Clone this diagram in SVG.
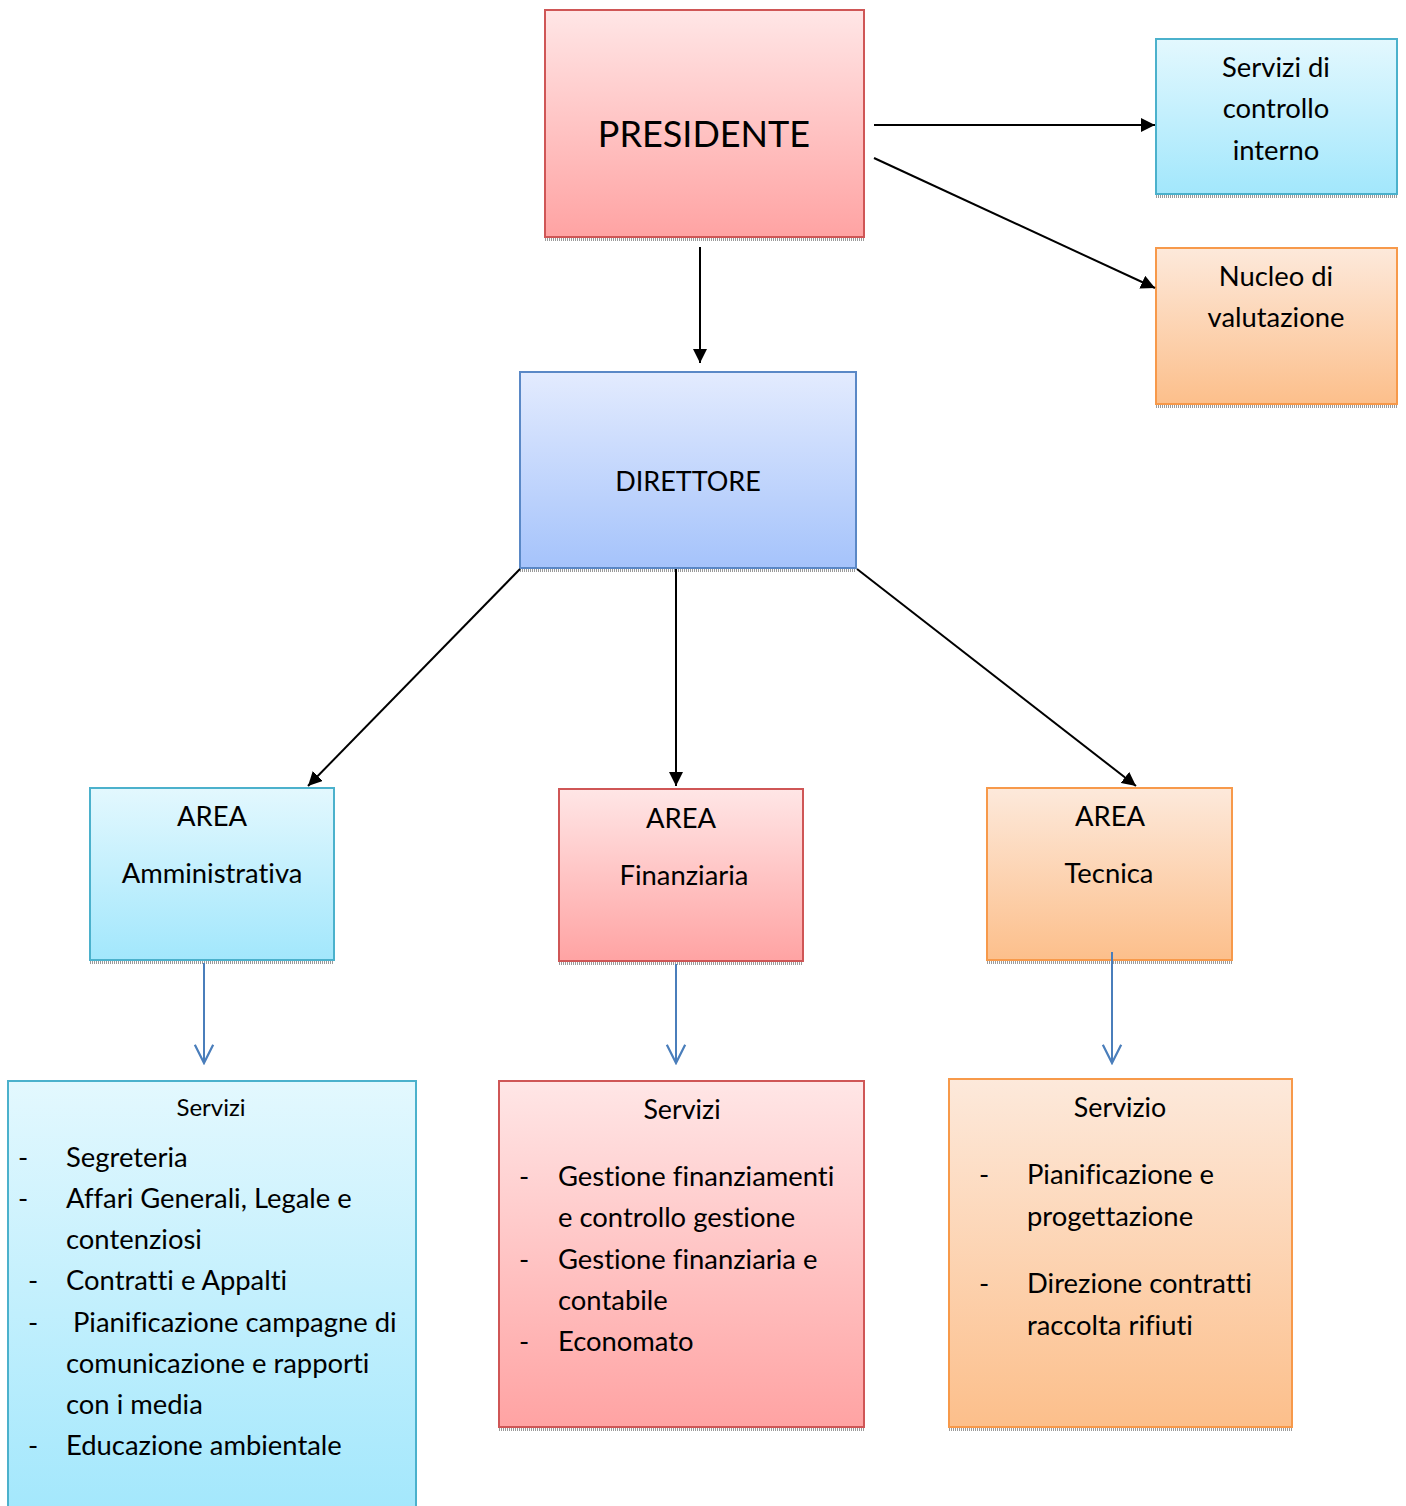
<svg xmlns="http://www.w3.org/2000/svg" width="1406" height="1506" viewBox="0 0 1406 1506">
<defs>
<linearGradient id="gRed" x1="0" y1="0" x2="0" y2="1"><stop offset="0" stop-color="#ffe6e6"/><stop offset="1" stop-color="#ffa3a3"/></linearGradient>
<linearGradient id="gCyan" x1="0" y1="0" x2="0" y2="1"><stop offset="0" stop-color="#e3f8fe"/><stop offset="1" stop-color="#a2e7fc"/></linearGradient>
<linearGradient id="gOrange" x1="0" y1="0" x2="0" y2="1"><stop offset="0" stop-color="#fde9db"/><stop offset="1" stop-color="#fcbf8b"/></linearGradient>
<linearGradient id="gBlue" x1="0" y1="0" x2="0" y2="1"><stop offset="0" stop-color="#e3ebfe"/><stop offset="1" stop-color="#a5c3fb"/></linearGradient>
<marker id="ah" viewBox="0 0 10 10" refX="10" refY="5" markerWidth="14" markerHeight="14" markerUnits="userSpaceOnUse" orient="auto"><path d="M0,0 L10,5 L0,10 z" fill="#000"/></marker>
<marker id="oh" viewBox="0 0 12 12" refX="11" refY="6" markerWidth="22" markerHeight="22" markerUnits="userSpaceOnUse" orient="auto"><path d="M1,1 L11,6 L1,11" fill="none" stroke="#4a7ebb" stroke-width="1.2"/></marker>
</defs>
<style>
.red{fill:url(#gRed);stroke:#cf5656;stroke-width:2}
.cyan{fill:url(#gCyan);stroke:#4bb1cc;stroke-width:2}
.orange{fill:url(#gOrange);stroke:#f7994a;stroke-width:2}
.blue{fill:url(#gBlue);stroke:#5a88c6;stroke-width:2}
.sh{stroke:#9a9a9a;stroke-width:3;stroke-dasharray:1 1}
text{font-family:Lato,"Open Sans","Liberation Sans",sans-serif;fill:#000;font-variant-ligatures:none}
.c{text-anchor:middle}
.t26{font-size:27.4px}
.t24{font-size:26.8px}
.t22{font-size:24px}
.blk{stroke:#000;stroke-width:2;fill:none;marker-end:url(#ah)}
.bl{stroke:#4a7ebb;stroke-width:2;fill:none;marker-end:url(#oh)}
</style>

<g id="presidente">
<rect class="red" x="545" y="10" width="319" height="227"/>
<line class="sh" x1="545" y1="239.5" x2="864" y2="239.5"/>
<text class="c" x="704" y="147" font-size="36">PRESIDENTE</text>
</g>

<g id="controllo">
<rect class="cyan" x="1156" y="39" width="241" height="155"/>
<line class="sh" x1="1156" y1="196.5" x2="1397" y2="196.5"/>
<text class="c t26" x="1276" y="77">Servizi di</text>
<text class="c t26" x="1276" y="118">controllo</text>
<text class="c t26" x="1276" y="160">interno</text>
</g>

<g id="nucleo">
<rect class="orange" x="1156" y="248" width="241" height="156"/>
<line class="sh" x1="1156" y1="406.5" x2="1397" y2="406.5"/>
<text class="c t26" x="1276" y="286">Nucleo di</text>
<text class="c t26" x="1276" y="327">valutazione</text>
</g>

<g id="direttore">
<rect class="blue" x="520" y="372" width="336" height="196"/>
<line class="sh" x1="520" y1="570.5" x2="856" y2="570.5"/>
<text class="c" x="688" y="491" font-size="27">DIRETTORE</text>
</g>

<g id="area-amm">
<rect class="cyan" x="90" y="788" width="244" height="172"/>
<line class="sh" x1="90" y1="962.5" x2="334" y2="962.5"/>
<text class="c t26" x="212" y="826">AREA</text>
<text class="c t26" x="212" y="883">Amministrativa</text>
</g>

<g id="area-fin">
<rect class="red" x="559" y="789" width="244" height="172"/>
<line class="sh" x1="559" y1="963.5" x2="803" y2="963.5"/>
<text class="c t26" x="681" y="828">AREA</text>
<text class="c t26" x="684" y="885">Finanziaria</text>
</g>

<g id="area-tec">
<rect class="orange" x="987" y="788" width="245" height="172"/>
<line class="sh" x1="987" y1="962.5" x2="1232" y2="962.5"/>
<text class="c t26" x="1110" y="826">AREA</text>
<text class="c t26" x="1109" y="883">Tecnica</text>
</g>

<g id="servizi-amm">
<rect class="cyan" x="8" y="1081" width="408" height="440"/>
<text class="c t22" x="211" y="1116">Servizi</text>
<g class="t26">
<text x="18" y="1167">-</text><text x="66" y="1167">Segreteria</text>
<text x="18" y="1208">-</text><text x="66" y="1208">Affari Generali, Legale e</text>
<text x="66" y="1249">contenziosi</text>
<text x="28" y="1290">-</text><text x="66" y="1290">Contratti e Appalti</text>
<text x="28" y="1332">-</text><text x="73" y="1332">Pianificazione campagne di</text>
<text x="66" y="1373">comunicazione e rapporti</text>
<text x="66" y="1414">con i media</text>
<text x="28" y="1455">-</text><text x="66" y="1455">Educazione ambientale</text>
</g>
</g>

<g id="servizi-fin">
<rect class="red" x="499" y="1081" width="365" height="346"/>
<line class="sh" x1="499" y1="1429.5" x2="864" y2="1429.5"/>
<text class="c t24" x="682" y="1119">Servizi</text>
<g class="t26">
<text x="519" y="1186">-</text><text x="558" y="1186">Gestione finanziamenti</text>
<text x="558" y="1227">e controllo gestione</text>
<text x="519" y="1269">-</text><text x="558" y="1269">Gestione finanziaria e</text>
<text x="558" y="1310">contabile</text>
<text x="519" y="1351">-</text><text x="558" y="1351">Economato</text>
</g>
</g>

<g id="servizio-tec">
<rect class="orange" x="949" y="1079" width="343" height="348"/>
<line class="sh" x1="949" y1="1429.5" x2="1292" y2="1429.5"/>
<text class="c t24" x="1120" y="1117">Servizio</text>
<g class="t26">
<text x="979" y="1184">-</text><text x="1027" y="1184">Pianificazione e</text>
<text x="1027" y="1226">progettazione</text>
<text x="979" y="1293">-</text><text x="1027" y="1293">Direzione contratti</text>
<text x="1027" y="1335">raccolta rifiuti</text>
</g>
</g>

<g id="connectors">
<line class="blk" x1="700" y1="247" x2="700" y2="363"/>
<line class="blk" x1="874" y1="125" x2="1155" y2="125"/>
<line class="blk" x1="874" y1="158" x2="1155" y2="288"/>
<line class="blk" x1="520" y1="569" x2="308" y2="786"/>
<line class="blk" x1="676" y1="569" x2="676" y2="786"/>
<line class="blk" x1="857" y1="569" x2="1136" y2="786"/>
<line class="bl" x1="204" y1="963" x2="204" y2="1063"/>
<line class="bl" x1="676" y1="964" x2="676" y2="1063"/>
<line class="bl" x1="1112" y1="952" x2="1112" y2="1063"/>
</g>
</svg>
